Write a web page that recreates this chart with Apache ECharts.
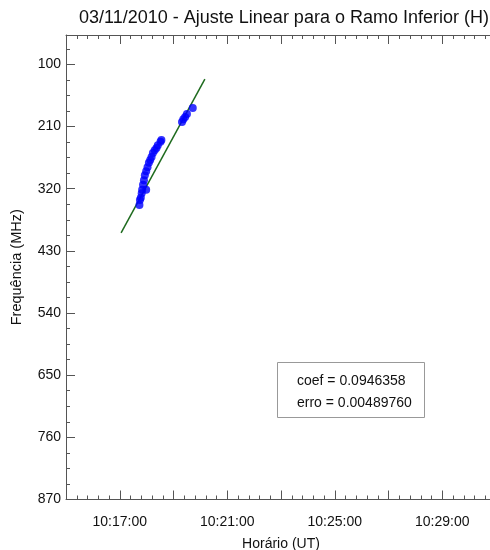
<!DOCTYPE html>
<html>
<head>
<meta charset="utf-8">
<script src="https://cdn.jsdelivr.net/npm/echarts@6/dist/echarts.min.js"></script>
<style>
html,body{margin:0;padding:0;background:#fff;}
#chart{width:490px;height:550px;}
</style>
</head>
<body>
<div id="chart"></div>
<script>
// observed points (time UT, frequency MHz)
const pointTimes = ['10:17:44','10:17:45','10:17:47','10:17:49','10:17:50','10:17:52','10:17:59','10:17:54',
	'10:17:56','10:17:59','10:18:02','10:18:05','10:18:08','10:18:11','10:18:14','10:18:18','10:18:22',
	'10:18:25','10:18:31','10:18:33','10:19:19','10:19:22','10:19:26','10:19:30','10:19:43'];
const pointFreqs = [349,340,336,328,322,313,322,305,296,289,282,274,269,264,257,252,248,243,237,234,202,197,193,188,177];
// fitted line endpoints
const fitTimes = ['10:17:03','10:20:10'];
const fitFreqs = [398,126];
const yTicks = [100,210,320,430,540,650,760,870];
const yMinorTicks = [72.5,127.5,155,182.5,237.5,265,292.5,347.5,375,402.5,457.5,485,512.5,567.5,595,622.5,677.5,705,732.5,787.5,815,842.5];
const fitText = ['coef = 0.0946358','erro = 0.00489760'];

const t0 = 10*3600 + 15*60; // 10:15:00, origin of x axis
function toSec(s){
	const p = s.split(':').map(Number);
	return p[0]*3600 + p[1]*60 + p[2] - t0;
}
function fmt(v){
	const s = v + t0;
	const h = Math.floor(s/3600), m = Math.floor(s%3600/60), sec = s%60;
	const pad = n => (n<10?'0':'') + n;
	return h + ':' + pad(m) + ':' + pad(sec);
}

const font = '"Liberation Sans", Arial, sans-serif';
const axisColor = '#555';

let myChart = echarts.init(document.getElementById('chart'));
myChart.setOption({
	animation: false,
	title: {
		text: '03/11/2010 - Ajuste Linear para o Ramo Inferior (H)',
		left: 279,
		top: 4,
		textAlign: 'center',
		textStyle: {fontFamily: font, fontSize: 18, fontWeight: 'normal', color: '#111'}
	},
	grid: {left: 66, top: 35, width: 430, bottom: 50.5, outerBoundsMode: 'none'},
	xAxis: [
		{
			type: 'value',
			min: 0,
			max: 960,
			interval: 120,
			name: 'Horário (UT)',
			nameLocation: 'middle',
			nameGap: 38,
			nameTextStyle: {fontFamily: font, fontSize: 14, color: '#111'},
			axisLine: {show: true, onZero: false, lineStyle: {color: axisColor, width: 1}},
			axisTick: {inside: true, length: 9, lineStyle: {color: axisColor}},
			minorTick: {show: true, splitNumber: 5, length: 4, lineStyle: {color: axisColor}},
			splitLine: {show: false},
			axisLabel: {
				fontFamily: font, fontSize: 14, color: '#111', margin: 16,
				formatter: function(v){ return (v/120) % 2 === 1 ? fmt(v) : ''; }
			}
		},
		{
			type: 'value',
			position: 'top',
			min: 0,
			max: 960,
			interval: 120,
			axisLine: {show: true, onZero: false, lineStyle: {color: axisColor, width: 1}},
			axisTick: {inside: true, length: 9, lineStyle: {color: axisColor}},
			minorTick: {show: true, splitNumber: 5, length: 4, lineStyle: {color: axisColor}},
			splitLine: {show: false},
			axisLabel: {show: false}
		}
	],
	yAxis: [
		{
			type: 'value',
			inverse: true,
			min: 48,
			max: 870,
			name: 'Frequência (MHz)',
			nameLocation: 'middle',
			nameGap: 42,
			nameTextStyle: {fontFamily: font, fontSize: 14.5, color: '#111'},
			axisLine: {show: true, onZero: false, lineStyle: {color: axisColor, width: 1}},
			axisTick: {inside: true, length: 9, customValues: yTicks, lineStyle: {color: axisColor}},
			splitLine: {show: false},
			axisLabel: {fontFamily: font, fontSize: 14, color: '#111', margin: 5, customValues: yTicks}
		},
		{
			type: 'value',
			inverse: true,
			position: 'left',
			min: 48,
			max: 870,
			axisLine: {show: false},
			axisTick: {show: true, inside: true, length: 4, customValues: yMinorTicks, lineStyle: {color: axisColor}},
			splitLine: {show: false},
			axisLabel: {show: false}
		}
	],
	series: [
		{
			type: 'line',
			data: fitTimes.map((t,i) => [toSec(t), fitFreqs[i]]),
			symbol: 'none',
			lineStyle: {color: '#1e6b1e', width: 1.5},
			z: 2
		},
		{
			type: 'scatter',
			data: pointTimes.map((t,i) => [toSec(t), pointFreqs[i]]),
			symbolSize: 8,
			itemStyle: {color: '#0000ff'},
			z: 3
		}
	],
	graphic: [
		{
			type: 'rect',
			shape: {x: 277.5, y: 362.5, width: 147, height: 55},
			style: {fill: '#fff', stroke: '#999', lineWidth: 1}
		},
		{
			type: 'text',
			left: 297,
			top: 374,
			style: {text: fitText[0], font: '14px ' + font, fill: '#111'}
		},
		{
			type: 'text',
			left: 297,
			top: 396,
			style: {text: fitText[1], font: '14px ' + font, fill: '#111'}
		}
	]
});
</script>
</body>
</html>
